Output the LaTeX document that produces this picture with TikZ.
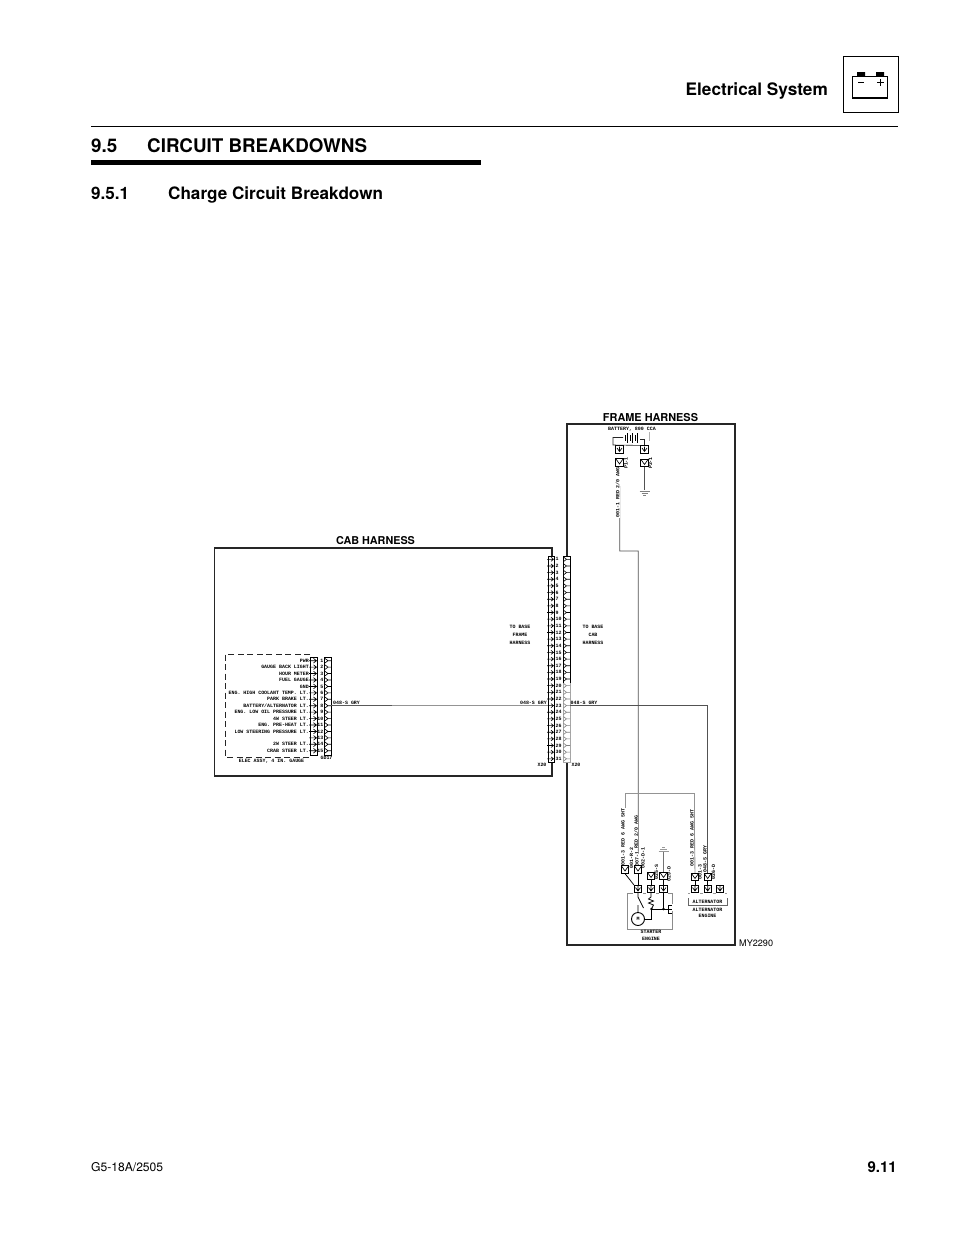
\documentclass[tikz,border=0pt]{standalone}
\usepackage{fontspec}
\setmainfont{TeX Gyre Heros}
\newfontfamily\schfont{Liberation Mono}
\newcommand{\sch}{\fontsize{4.95}{5}\selectfont\schfont\bfseries}
\tikzset{
  schlabel/.style={inner sep=0pt,font=\sch,text=black},
  rowlabel/.style={schlabel,anchor=east},
  frameedge/.style={draw=black!85,line width=1.9pt},
  wire/.style={draw=black!68,line width=.85pt},
  palewire/.style={draw=black!42,line width=.9pt},
  finewire/.style={draw=black!85,line width=.6pt},
  pin/.style={draw=black,fill=white,line width=.7pt,minimum size=7.5pt,inner sep=0pt},
  col/.style={draw=black,fill=white,line width=.8pt},
  heading/.style={inner sep=0pt,anchor=base west,font=\bfseries},
}
\newcommand{\pinbox}[3]{% name, x, y : square terminal with a mark in it
  \node[pin] (#1) at (#2,#3) {};
  \draw[line width=.65pt] (#2-2.5,#3-1.5) -- (#2,#3+2) -- (#2+2.5,#3-1.5) (#2,#3-3) -- (#2,#3+2);}
\newcommand{\plug}[3]{% name, x, y : terminal with chevron
  \node[pin] (#1) at (#2,#3) {};
  \draw[line width=.65pt] (#2-3.5,#3-3.5) -- (#2,#3+1.5) -- (#2+3.5,#3-3.5);}
\begin{document}
\begin{tikzpicture}[x=1pt,y=-1pt]
\useasboundingbox[fill=white] (0,0) rectangle (954,1235);

% --- page header
\node[heading,font=\fontsize{17.2}{19}\selectfont\bfseries,anchor=base east] (hdr) at (828,95) {Electrical System};
\node[draw=black,line width=.8pt,minimum width=55pt,minimum height=56pt,inner sep=0pt] (icon) at (870.5,84) {};
\draw[line width=.7pt] (852.5,98.5) -- (852.5,76) -- (887.5,76) -- (887.5,98.5);
\draw[line width=1.7pt] (852,98.3) -- (888,98.3);
\fill (857,72) rectangle (865,76) (876,72) rectangle (884,76);
\draw[line width=.8pt] (858,82.5) -- (864,82.5) (877,82.5) -- (883.5,82.5) (880.2,79.3) -- (880.2,85.7);
\draw[line width=.8pt] (91,126.5) -- (898,126.5);
\node[heading,font=\fontsize{18.8}{20}\selectfont\bfseries] (secnum) at (91,152) {9.5};
\node[heading,font=\fontsize{18.8}{20}\selectfont\bfseries] (sec) at (147,152) {CIRCUIT BREAKDOWNS};
\fill (91,160) rectangle (481,164.5);
\node[heading,font=\fontsize{17.1}{19}\selectfont\bfseries] (subnum) at (91,199) {9.5.1};
\node[heading,font=\fontsize{17.1}{19}\selectfont\bfseries] (sub) at (168,199) {Charge Circuit Breakdown};

% --- footer
\node[inner sep=0pt,anchor=base west,font=\fontsize{12.1}{14}\selectfont] (foot) at (91,1171) {G5-18A/2505};
\node[inner sep=0pt,anchor=base east,font=\fontsize{15}{17}\selectfont\bfseries] (pg) at (897,1172) {9.11};
\node[inner sep=0pt,anchor=base west,font=\fontsize{9.1}{11}\selectfont] (fig) at (739,946) {MY2290};

% --- harness frames
\draw[frameedge] (214.5,548) rectangle (552,776);
\draw[frameedge] (567,424) rectangle (735,945);
\node[inner sep=0pt,font=\fontsize{10.8}{12}\selectfont\bfseries] (cabt) at (375.5,540.5) {CAB HARNESS};
\node[inner sep=0pt,font=\fontsize{10.9}{12}\selectfont\bfseries] (framet) at (650.5,418) {FRAME HARNESS};

% --- gauge assembly
\draw[black!85,line width=.8pt,dash pattern=on 6pt off 3.5pt] (310,654) -- (225,654) -- (225,757) -- (310,757);
\node[col,minimum width=7.5pt,minimum height=98pt,inner sep=0pt] (gl) at (314,706) {};
\node[col,minimum width=7pt,minimum height=98pt,inner sep=0pt] (gr) at (327.5,706) {};
\foreach \i/\t in {1/PWR,2/GAUGE BACK LIGHT,3/HOUR METER,4/FUEL GAUGE,5/GND,6/ENG. HIGH COOLANT TEMP. LT.,7/PARK BRAKE LT.,8/{BATTERY/ALTERNATOR LT.},9/ENG. LOW OIL PRESSURE LT.,10/4W STEER LT.,11/ENG. PRE-HEAT LT.,12/LOW STEERING PRESSURE LT.,13/,14/2W STEER LT.,15/CRAB STEER LT.}{
  \pgfmathsetmacro{\yy}{660.7+(\i-1)*6.43}
  \node[rowlabel] (gt\i) at (309,\yy) {\t};
  \node[schlabel,anchor=east] (gn\i) at (323.5,\yy) {\i};
  \draw[line width=.65pt] (309,\yy) -- (316.5,\yy) (313.5,\yy-2.3) -- (316.5,\yy) -- (313.5,\yy+2.3);
  \draw[line width=.65pt] (324.5,\yy-2.6) -- (328,\yy) -- (324.5,\yy+2.6) (328,\yy) -- (331,\yy);
}
\node[schlabel] (go17) at (326.5,757.5) {GD17};
\node[schlabel] (gauge) at (271.5,761.5) {ELEC ASSY, 4 IN. GAUGE};

% --- connector X20
\node[col,minimum width=6.5pt,minimum height=206pt,inner sep=0pt] (xl) at (551.5,659) {};
\node[col,minimum width=7pt,minimum height=206pt,inner sep=0pt] (xr) at (566.5,659) {};
\draw[black!35,line width=.9pt] (563,683) -- (563,762) -- (570,762) -- (570,683);
\foreach \i in {1,...,31}{
  \pgfmathsetmacro{\yy}{559.3+(\i-1)*6.65}
  \ifnum\i>19 \def\cc{black!50}\else\def\cc{black}\fi
  \node[schlabel,anchor=west] (xn\i) at (555.5,\yy) {\i};
  \draw[line width=.6pt] (547,\yy) -- (553.5,\yy) (551,\yy-2) -- (553.5,\yy) -- (551,\yy+2);
  \draw[\cc,line width=.6pt] (563.5,\yy-2.3) -- (566.5,\yy) -- (563.5,\yy+2.3) (566.5,\yy) -- (570,\yy);
}
\node[schlabel] (xa) at (542,765) {X20};
\node[schlabel] (xb) at (576,765) {X20};
\foreach \n/\x/\y/\t in {a1/520/626.5/TO BASE,a2/520/634.5/FRAME,a3/520/643/HARNESS,b1/593/626.5/TO BASE,b2/593/634.5/CAB,b3/593/643/HARNESS}
  \node[schlabel] (\n) at (\x,\y) {\t};

% --- battery
\node[schlabel] (battlbl) at (632,429.5) {BATTERY, 800 CCA};
\pinbox{bp}{619.5}{449.5}
\pinbox{bn}{644.5}{449.5}
\plug{pa}{619.5}{462.5}
\plug{pb}{644.5}{463}
\coordinate (battl) at (623,437.5);
\coordinate (battr) at (640,439);
\draw[finewire] (battl) -- (613,437.5) -- (613,445) -- (bn.north west);
\draw[finewire] (battr) -- (bn.north |- battr) -- (bn.north);
\draw[black!30,line width=.9pt] (649,432) -- (649,441);
\foreach \x/\h in {625/3,627.5/5,630/3,632.5/5,635/3,637.5/5}
  \draw[line width=.8pt] (\x,438-\h) -- (\x,438+\h);
\node[schlabel,rotate=90] (pt1) at (626,463) {P1-1};
\node[schlabel,rotate=90] (pt2) at (650.5,463) {P2-1};
\coordinate (gnd1) at (644.5,490);
\draw[wire] (pb.south) -- (gnd1);
\draw[black!50,line width=.8pt] (639.5,491) -- (649.5,491) (641.5,493) -- (647.5,493) (643.2,495) -- (645.8,495);

% --- main feed
\coordinate (f1) at (619.8,551);
\coordinate (f2) at (638.3,551);
\coordinate (f3) at (638.3,865);
\draw[wire] (pa.south) -- (f1) -- (f2) -- (f3);
\node[schlabel,rotate=90,fill=white,inner sep=.4pt] (l1) at (617.5,492.5) {001-1 RED 2/0 AWG};

% --- signal wire 048
\coordinate (w0) at (707.7,705.5);
\coordinate (w1) at (707.7,868);
\draw[palewire] (gr.east |- 0,705.7) -- (xl.west |- 0,705.7);
\draw[black!65,line width=.8pt] (331,705.7) -- (392,705.7);
\draw[wire] (xr.east |- 0,705.5) -- (w0) -- (w1);
\node[schlabel,anchor=west] (w1l) at (333,703) {048-S GRY};
\node[schlabel,anchor=east] (w2l) at (547,703) {048-S GRY};
\node[schlabel,anchor=west] (w3l) at (570.5,703) {048-S GRY};

% --- jumper 001-3
\coordinate (j1) at (625.7,793.3);
\coordinate (j2) at (694.3,793.3);
\draw[palewire] (625.7,808) -- (j1) -- (j2) -- (694.3,820);

% --- starter
\coordinate (g2) at (663.5,851);
\foreach \n/\x/\y/\t in {r1/623/837/{001-3 RED 6 AWG SHT},r2/636/832/{RED 2/0 AWG},r3/631.5/858/{001-R-2},r3b/637/859/{007-1},r4/643/858/{002-D-1},r5/656.5/872/{025-S},r6/669/874/{029-D},r7/692/838/{001-3 RED 6 AWG SHT},r8/705/859/{048-S GRY},r9/700/872/{001-3},r10/713.5/872/{026-D}}
  \node[schlabel,rotate=90,fill=white,inner sep=.2pt] (\n) at (\x,\y) {\t};
\plug{s1}{625}{869.5}
\plug{s2}{638}{869.5}
\plug{s3}{651}{876}
\plug{s4}{663.5}{876}
\pinbox{st1}{638}{889}
\pinbox{st2}{651}{889}
\pinbox{st3}{663.5}{889}
\draw[line width=.75pt] (s1.south) -- (st1.north west);
\draw[line width=.75pt] (s2.south) -- (st1.north);
\draw[line width=.75pt] (s3.south) -- (st2.north) (s4.south) -- (st3.north);
\draw[black!55,line width=.75pt] (s4.north) -- (g2);
\draw[black!40,line width=.8pt] (658.5,851) -- (668.5,851) (660,849) -- (667,849) (662,847) -- (665,847);
\draw[black!45,line width=.8pt] (633,893.5) -- (627.5,893.5) -- (627.5,929) -- (672.5,929) -- (672.5,911);
\draw[black!45,line width=.8pt] (643,893.5) -- (646,893.5) (656,893.5) -- (659,893.5) (668,893.5) -- (672.5,893.5) -- (672.5,904);
% motor and switches
\node[draw=black,circle,line width=.9pt,minimum size=13pt,inner sep=0pt,font=\sch] (motor) at (638,919) {M};
\coordinate (c1) at (651.5,909);
\coordinate (c2) at (663.5,909);
\fill (c1) circle (1.4pt) (c2) circle (1.4pt);
\draw[line width=.75pt] (st1.south) -- (638,897) -- (643.5,908) (638,905) -- (motor.north);
\draw[line width=.75pt] (st2.south) -- (651,897) -- (648.5,899) -- (653.5,901) -- (648.5,903) -- (653.5,905) -- (c1);
\draw[line width=.75pt] (motor.east) -- (651.5,919) -- (c1) -- (c2) -- (st3.south);
\draw[line width=.75pt] (c2) -- (668,909) (671.5,905) -- (668,905) -- (668,913) -- (671.5,913) (668,909) -- (671.5,909);
\node[schlabel] (stt) at (651,932) {STARTER};
\node[schlabel] (ste) at (651,939) {ENGINE};

% --- alternator
\plug{a1}{695}{877}
\plug{a2}{707.7}{877}
\pinbox{at1}{695}{889}
\pinbox{at2}{707.7}{889}
\pinbox{at3}{720}{889}
\draw[line width=.75pt] (a1.south) -- (at1.north) (a2.south) -- (at2.north);
\draw[wire] (w1) -- (a2.north);
\draw[palewire] (694.3,820) -- (a1.north);
\draw[black!60,line width=.75pt] (688,898) -- (688,905.5) -- (727,905.5) -- (727,898);
\draw[black!40,line width=.7pt] (688,893.5) -- (690,893.5) (700,893.5) -- (703,893.5) (712.5,893.5) -- (715.5,893.5) (725,893.5) -- (727,893.5);
\node[schlabel,fill=white,inner sep=.2pt] (al1) at (707.5,902) {ALTERNATOR};
\node[schlabel] (al2) at (707.5,909.5) {ALTERNATOR};
\node[schlabel] (al3) at (707.5,916) {ENGINE};
\end{tikzpicture}
\end{document}
